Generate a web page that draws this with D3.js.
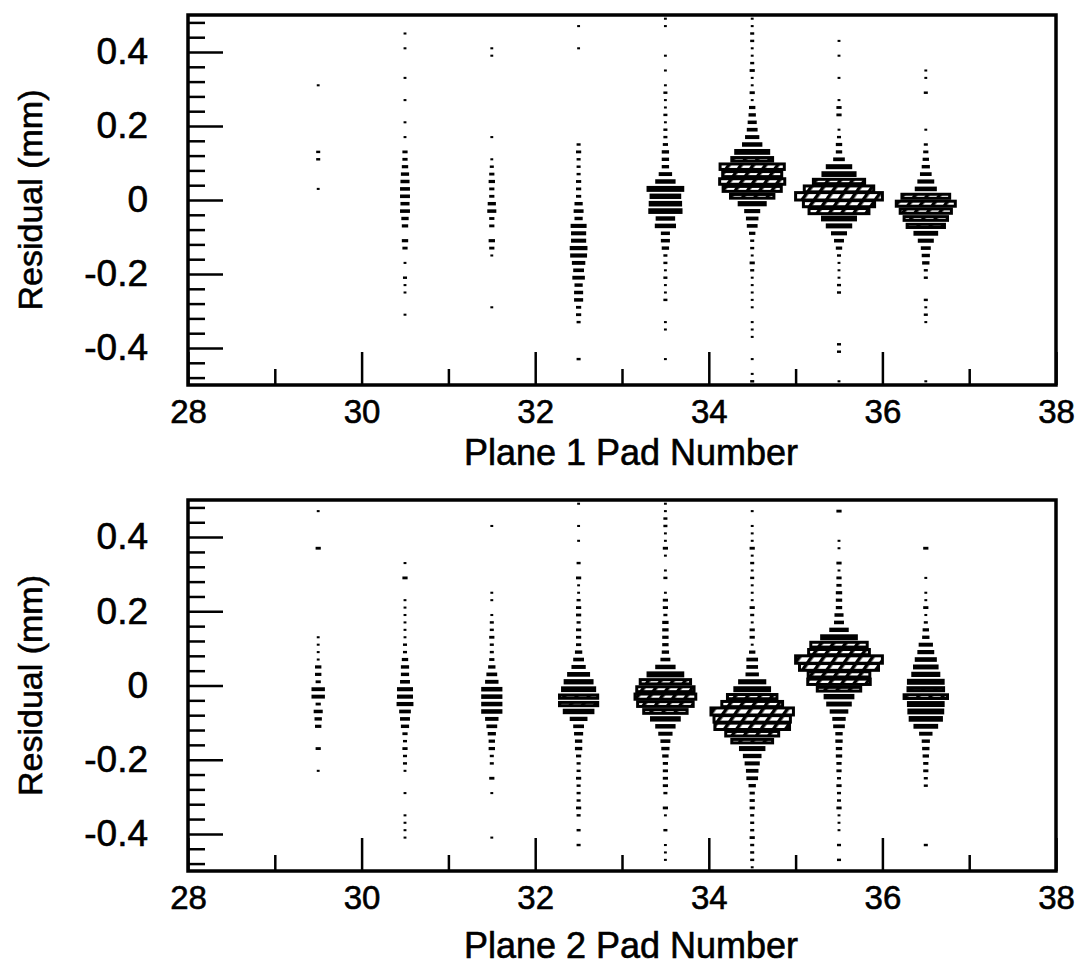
<!DOCTYPE html>
<html>
<head>
<meta charset="utf-8">
<script src="https://cdn.jsdelivr.net/npm/d3@7"></script>
<style>
  body { margin: 0; background: #fff; }
  svg text { font-family: "Liberation Sans", Arial, Helvetica, sans-serif; fill: #000; stroke: #000; stroke-width: 0.6px; }
</style>
</head>
<body>
<div id="chart"></div>
<script>
// Pad columns (bin centres) and the residual bins: 50 bins of 0.02 mm,
// listed from the top (+0.49) down to the bottom (-0.49)
const pads = [29.5, 30.5, 31.5, 32.5, 33.5, 34.5, 35.5, 36.5];
const yBins = d3.range(50).map(i => +(0.49 - 0.02 * i).toFixed(2));

const xTicksMajor = [28, 30, 32, 34, 36, 38];
const xTicksMinor = [29, 31, 33, 35, 37];
const yTicksMajor = [-0.4, -0.2, 0, 0.2, 0.4];
const yTicksMinor = [-0.48, -0.44, -0.36, -0.32, -0.28, -0.24, -0.16, -0.12, -0.08, -0.04,
                     0.04, 0.08, 0.12, 0.16, 0.24, 0.28, 0.32, 0.36, 0.44, 0.48];

// Plane 1 bin contents (top to bottom, one array per pad)
const plane1_295 = [0,0,0,0,0,0,0,0,0,1, 0,0,0,0,0,0,0,0,2,2, 0,0,0,1,0,0,0,0,0,0, 0,0,0,0,0,0,0,0,0,0, 0,0,0,0,0,0,0,0,0,0];
const plane1_305 = [0,0,1,0,1,0,0,0,1,0, 0,1,0,0,1,0,1,0,3,3, 4,6,7,8,8,7,8,5,4,0, 4,3,0,1,0,2,1,1,0,0, 1,0,0,0,0,0,0,0,0,0];
const plane1_315 = [0,0,0,0,1,1,0,0,0,0, 0,0,0,0,0,0,1,0,0,1, 2,3,4,3,3,6,7,3,3,0, 4,3,1,0,0,0,0,0,0,1, 0,0,0,0,0,0,0,0,0,0];
const plane1_325 = [0,1,0,0,1,0,0,0,0,0, 0,0,0,0,0,0,0,2,3,2, 2,2,3,3,3,6,8,6,15,14, 14,17,16,12,9,11,6,7,7,3, 3,2,0,0,0,0,2,0,0,0];
const plane1_335 = [1,1,0,0,0,1,0,1,0,1, 2,1,1,2,1,2,2,3,5,5, 5,12,20,40,33,35,36,19,21,7, 7,5,2,2,1,2,1,1,2,0, 0,1,1,0,0,0,1,0,0,0];
const plane1_345 = [1,1,2,2,1,1,2,3,1,1, 3,1,4,5,7,9,13,20,38,47, 74,68,75,67,50,30,15,11,9,4, 2,2,1,3,2,1,1,1,1,1, 0,1,1,1,0,0,1,0,1,2];
const plane1_355 = [0,0,0,1,0,1,0,0,1,0, 0,1,3,3,0,1,2,4,4,10, 27,37,59,80,100,82,69,38,27,15, 8,4,2,1,1,1,2,2,0,0, 0,0,0,0,2,2,0,0,0,1];
const plane1_365 = [0,0,0,0,0,0,0,1,1,0, 2,0,0,0,0,1,0,2,3,4, 6,10,16,22,55,68,59,50,43,25, 15,8,6,5,2,2,0,0,2,1, 2,1,0,0,0,0,0,0,0,1];

// Plane 2 bin contents
const plane2_295 = [0,1,0,0,0,0,3,0,0,0, 0,0,0,0,0,0,0,0,1,1, 1,1,4,4,3,12,12,3,7,5, 4,0,0,3,0,0,1,0,0,0, 0,0,0,0,0,0,0,0,0,0];
const plane2_305 = [0,0,0,0,0,0,0,0,1,0, 3,0,0,1,1,1,1,1,1,2, 2,4,6,6,8,15,15,16,10,8, 6,3,2,3,2,2,1,0,0,1, 0,0,1,1,1,1,0,0,0,0];
const plane2_315 = [0,0,0,1,0,0,0,0,0,0, 0,0,1,1,0,1,2,2,3,2, 2,3,5,9,12,21,21,21,21,12, 9,6,4,4,2,2,0,3,0,1, 0,0,0,0,0,1,0,0,0,0];
const plane2_325 = [1,0,0,1,0,1,0,0,2,0, 3,1,1,2,3,3,2,3,3,3, 5,9,13,23,31,37,44,44,33,17, 9,7,5,5,3,2,2,3,2,2, 2,3,2,0,2,0,2,0,0,0];
const plane2_335 = [1,1,2,2,1,1,3,1,0,1, 2,0,1,3,3,2,4,4,4,4, 5,8,20,40,58,66,70,64,50,32, 20,13,8,6,4,3,3,3,3,2, 0,3,1,0,2,0,1,1,1,0];
const plane2_345 = [0,1,0,1,1,1,3,1,2,1, 2,1,1,1,3,2,1,3,3,1, 4,10,10,12,29,40,57,70,95,88, 86,61,47,27,18,14,11,10,5,3, 3,3,2,2,2,3,2,2,2,1];
const plane2_355 = [0,3,0,0,0,1,1,0,3,1, 3,3,4,4,4,7,8,19,40,65, 70,100,91,71,72,50,32,26,18,12, 10,5,5,4,4,3,3,2,3,2, 2,3,1,1,1,0,2,0,2,0];
const plane2_365 = [0,0,0,0,0,0,3,0,0,0, 1,0,1,1,3,1,2,4,5,13, 16,22,26,30,40,41,50,40,39,36, 25,12,6,5,4,3,3,2,2,0, 0,0,0,0,0,0,2,0,0,0];

const plane1 = [plane1_295, plane1_305, plane1_315, plane1_325, plane1_335, plane1_345, plane1_355, plane1_365];
const plane2 = [plane2_295, plane2_305, plane2_315, plane2_325, plane2_335, plane2_345, plane2_355, plane2_365];

const W = 1086, H = 967;
const left = 188, right = 1056;

const svg = d3.select("#chart").append("svg")
    .attr("width", W)
    .attr("height", H);

// hatch used inside the big boxes
svg.append("defs").append("pattern")
    .attr("id", "hatch")
    .attr("patternUnits", "userSpaceOnUse")
    .attr("width", 10).attr("height", 10)
    .attr("patternTransform", "rotate(35)")
    .call(p => {
        p.append("rect").attr("width", 10).attr("height", 10).attr("fill", "#fff");
        p.append("rect").attr("width", 3.5).attr("height", 10).attr("fill", "#000");
    });

const x = d3.scaleLinear().domain([28, 38]).range([left, right]);

function drawPanel(counts, top, bottom, title, titleY) {
    const y = d3.scaleLinear().domain([-0.5, 0.5]).range([bottom, top]);
    const g = svg.append("g");

    const cw = x(1) - x(0);
    const ch = y(0) - y(0.02);
    const cmax = d3.max(counts, col => d3.max(col));

    // boxes: both sides proportional to the bin content
    const cells = [];
    counts.forEach((col, i) => col.forEach((c, k) => {
        if (c > 0) cells.push({ pad: pads[i], v: yBins[k], c: c });
    }));

    g.selectAll("rect.box")
        .data(cells)
        .join("rect")
        .attr("class", "box")
        .attr("x", d => x(d.pad) - cw * d.c / cmax / 2)
        .attr("y", d => y(d.v) - ch * d.c / cmax / 2)
        .attr("width", d => cw * d.c / cmax)
        .attr("height", d => ch * d.c / cmax)
        .attr("fill", "url(#hatch)")
        .attr("stroke", "#000")
        .attr("stroke-width", d => Math.min(3, 1.7 + 0.3 * d.c));

    // y axis: ticks pointing into the frame
    const yMinor = g.append("g")
        .attr("transform", `translate(${left},0)`)
        .call(d3.axisLeft(y).tickValues(yTicksMinor).tickSize(-17).tickFormat(""));
    const yMajor = g.append("g")
        .attr("transform", `translate(${left},0)`)
        .call(d3.axisLeft(y).tickValues(yTicksMajor).tickSize(-35).tickPadding(40)
            .tickFormat(d => d === 0 ? "0" : d.toFixed(1)));

    // x axis
    const xMinor = g.append("g")
        .attr("transform", `translate(0,${bottom})`)
        .call(d3.axisBottom(x).tickValues(xTicksMinor).tickSize(-16).tickFormat(""));
    const xMajor = g.append("g")
        .attr("transform", `translate(0,${bottom})`)
        .call(d3.axisBottom(x).tickValues(xTicksMajor).tickSize(-33).tickPadding(15));

    [yMinor, yMajor, xMinor, xMajor].forEach(a => {
        a.select(".domain").remove();
        a.selectAll(".tick line").attr("stroke", "#000").attr("stroke-width", 2.5);
    });
    yMajor.selectAll(".tick text").attr("font-size", 37);
    xMajor.selectAll(".tick text").attr("font-size", 33);

    // frame
    g.append("rect")
        .attr("x", left).attr("y", top)
        .attr("width", right - left).attr("height", bottom - top)
        .attr("fill", "none")
        .attr("stroke", "#000")
        .attr("stroke-width", 3.5);

    // titles
    g.append("text")
        .attr("x", 631).attr("y", titleY)
        .attr("text-anchor", "middle")
        .attr("font-size", 36)
        .text(title);

    g.append("text")
        .attr("transform", `translate(42,${(top + bottom) / 2}) rotate(-90)`)
        .attr("text-anchor", "middle")
        .attr("font-size", 34)
        .text("Residual (mm)");
}

drawPanel(plane1, 15, 385, "Plane 1 Pad Number", 465);
drawPanel(plane2, 500, 871, "Plane 2 Pad Number", 958);
</script>
</body>
</html>
